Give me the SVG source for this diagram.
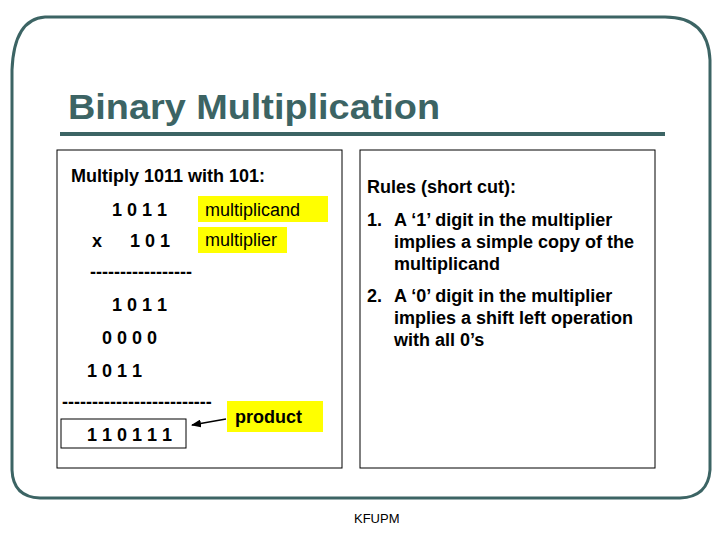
<svg xmlns="http://www.w3.org/2000/svg" width="720" height="540" viewBox="0 0 720 540">
<style>
.t{font-family:"Liberation Sans",Arial,sans-serif;font-weight:bold;font-size:18px;fill:#000}
.n{font-weight:normal}
.hl{fill:#ffff00}
</style>
<defs><marker id="ah" markerWidth="10" markerHeight="8" refX="9" refY="4" orient="auto" markerUnits="userSpaceOnUse"><path d="M0,0 L10,4 L0,8 Z" fill="#000"/></marker></defs>
<rect width="720" height="540" fill="#fff"/>
<g id="frame">
<path d="M45,17 H665 Q708,17 710,60 V470 Q708,497 680,498 H40 Q13,497 12,470 V70 Q14,19 45,17 Z" fill="none" stroke="#3c6464" stroke-width="3"/>
<text x="68" y="119" font-family="Liberation Sans,Arial,sans-serif" font-weight="bold" font-size="35" fill="#3c6464" textLength="372" lengthAdjust="spacingAndGlyphs">Binary Multiplication</text>
<line x1="60" y1="134" x2="665" y2="134" stroke="#3c6464" stroke-width="4"/>
</g>
<g id="left">
<rect x="57" y="150" width="285" height="318" fill="none" stroke="#000" stroke-width="1"/>
<text class="t" x="71" y="182">Multiply 1011 with 101:</text>
<text class="t" x="112" y="216">1 0 1 1</text>
<text class="t" x="92" y="247">x</text>
<text class="t" x="130" y="247">1 0 1</text>
<text class="t" x="90" y="278">-----------------</text>
<text class="t" x="112" y="311">1 0 1 1</text>
<text class="t" x="102" y="344">0 0 0 0</text>
<text class="t" x="87" y="377">1 0 1 1</text>
<text class="t" x="62" y="408">-------------------------</text>
<rect x="61" y="419" width="125" height="29" fill="none" stroke="#000" stroke-width="1"/>
<text class="t" x="87" y="441">1 1 0 1 1 1</text>
</g>
<g id="multiplicand"><rect class="hl" x="198" y="196" width="130" height="26"/><text class="t n" x="205" y="216">multiplicand</text></g>
<g id="multiplier"><rect class="hl" x="198" y="227" width="89" height="26"/><text class="t n" x="205" y="246">multiplier</text></g>
<g id="product"><rect class="hl" x="227" y="401" width="96" height="31"/><text class="t" x="235" y="423">product</text></g>
<g id="connectors"><line x1="226" y1="419" x2="192" y2="425" stroke="#000" stroke-width="1.5" marker-end="url(#ah)"/></g>
<g id="rules">
<rect x="360" y="150" width="295" height="318" fill="none" stroke="#000" stroke-width="1"/>
<text class="t" x="367" y="193">Rules (short cut):</text>
<text class="t" x="367" y="226">1.</text><text class="t" x="394" y="226">A ‘1’ digit in the multiplier</text>
<text class="t" x="394" y="248">implies a simple copy of the</text>
<text class="t" x="394" y="270">multiplicand</text>
<text class="t" x="367" y="302">2.</text><text class="t" x="394" y="302">A ‘0’ digit in the multiplier</text>
<text class="t" x="394" y="324">implies a shift left operation</text>
<text class="t" x="394" y="346">with all 0’s</text>
</g>
<text x="354" y="523" font-family="Liberation Sans,Arial,sans-serif" font-size="13" fill="#000">KFUPM</text>
</svg>
